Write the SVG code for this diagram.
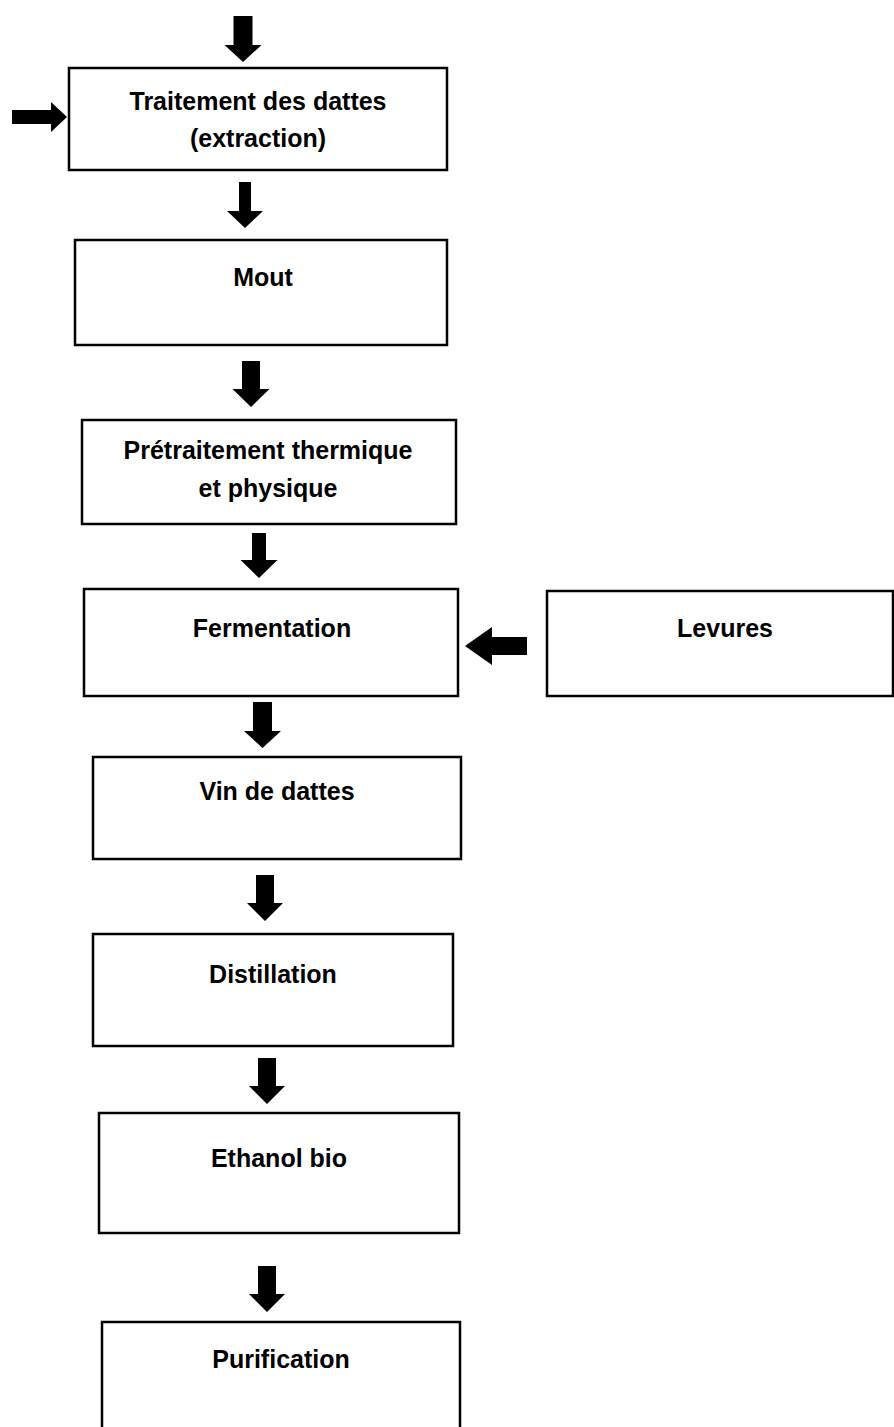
<svg xmlns="http://www.w3.org/2000/svg" width="894" height="1427" viewBox="0 0 894 1427">
<style>
.box{fill:#fff;stroke:#000;stroke-width:2.5}
.t{font-family:"Liberation Sans",Arial,sans-serif;font-weight:bold;font-size:25px;fill:#000;text-anchor:middle}
.arr{fill:#000;stroke:none}
</style>
<rect width="894" height="1427" fill="#fff"/>
<g id="n1"><rect class="box" x="69" y="68" width="378" height="102"/><text class="t" x="258" y="110">Traitement des dattes</text><text class="t" x="258" y="147">(extraction)</text></g>
<g id="n2"><rect class="box" x="75" y="240" width="372" height="105"/><text class="t" x="263" y="286">Mout</text></g>
<g id="n3"><rect class="box" x="82" y="420" width="374" height="104"/><text class="t" x="268" y="459">Prétraitement thermique</text><text class="t" x="268" y="497">et physique</text></g>
<g id="n4"><rect class="box" x="84" y="589" width="374" height="107"/><text class="t" x="272" y="637">Fermentation</text></g>
<g id="n5"><rect class="box" x="547" y="591" width="346" height="105"/><text class="t" x="725" y="637">Levures</text></g>
<g id="n6"><rect class="box" x="93" y="757" width="368" height="102"/><text class="t" x="277" y="800">Vin de dattes</text></g>
<g id="n7"><rect class="box" x="93" y="934" width="360" height="112"/><text class="t" x="273" y="983">Distillation</text></g>
<g id="n8"><rect class="box" x="99" y="1113" width="360" height="120"/><text class="t" x="279" y="1167">Ethanol bio</text></g>
<g id="n9"><rect class="box" x="102" y="1322" width="358" height="130"/><text class="t" x="281" y="1368">Purification</text></g>
<g id="connectors">
<polygon class="arr" points="233.5,16 252.5,16 252.5,45 261.5,45 243,62 224.5,45 233.5,45"/>
<polygon class="arr" points="12,110 51,110 51,102 67,117 51,132 51,124 12,124"/>
<polygon class="arr" points="239,182 251,182 251,211 263,211 245,228 227,211 239,211"/>
<polygon class="arr" points="242,361 260,361 260,389 269.5,389 251,407 232.5,389 242,389"/>
<polygon class="arr" points="252,533 266,533 266,560 277.5,560 259,578 240.5,560 252,560"/>
<polygon class="arr" points="527,637 527,655 492,655 492,665 465,646 492,627 492,637"/>
<polygon class="arr" points="253,702 272,702 272,731 281,731 262.5,748 244,731 253,731"/>
<polygon class="arr" points="256,875 274,875 274,903 283,903 265,921 247,903 256,903"/>
<polygon class="arr" points="258,1058 276,1058 276,1086 285,1086 267,1104 249,1086 258,1086"/>
<polygon class="arr" points="258,1266 276,1266 276,1294 285,1294 267,1312 249,1294 258,1294"/>
</g>
</svg>
